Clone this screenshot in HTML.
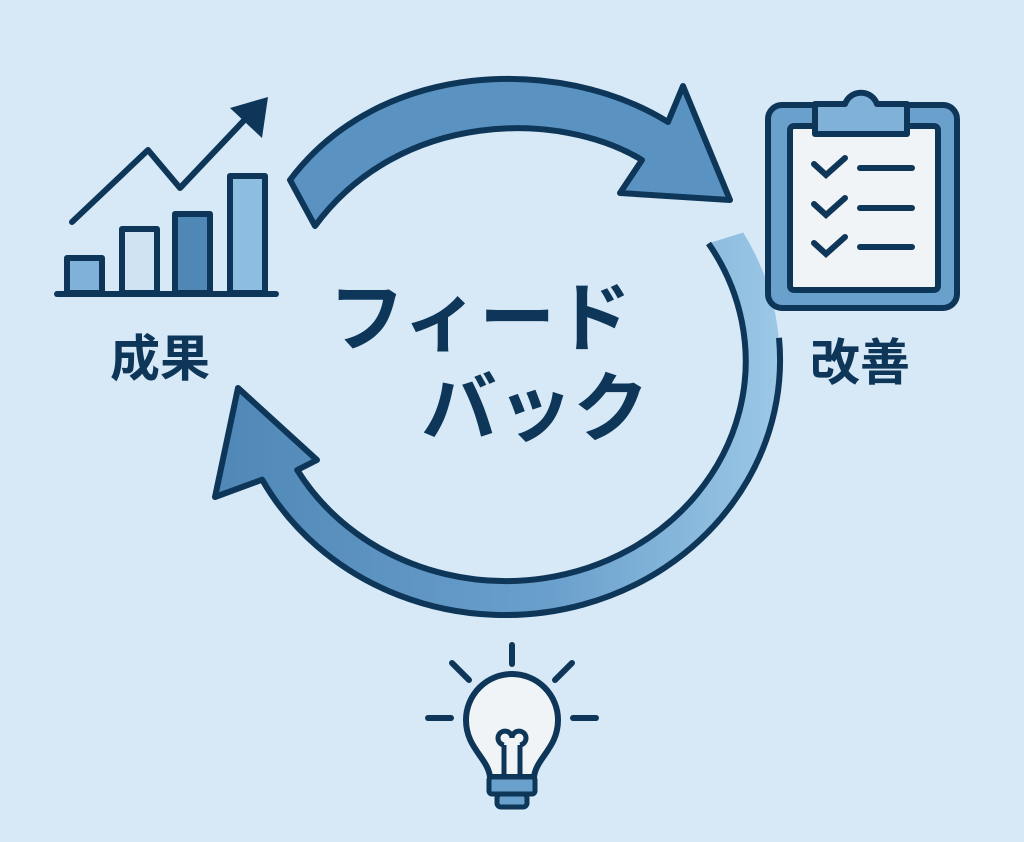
<!DOCTYPE html>
<html><head><meta charset="utf-8"><style>
html,body{margin:0;padding:0;background:#d7e9f6;}
svg{display:block}
text{font-family:"Liberation Sans","Noto Sans CJK JP",sans-serif;font-weight:bold;fill:#0e3659}
</style></head><body>
<svg width="1024" height="842" viewBox="0 0 1024 842" xmlns="http://www.w3.org/2000/svg">
<defs>
<linearGradient id="g1" x1="0" y1="0" x2="1" y2="0">
<stop offset="0" stop-color="#4f87b6"/><stop offset="0.6" stop-color="#6aa0cc"/><stop offset="1" stop-color="#9cc8e6"/>
</linearGradient>
</defs>
<rect width="1024" height="842" fill="#d7e9f6"/>
<!-- top arrow -->
<path d="M290 180 C380 60 560 55 668 122 L683 86 L730 200 L620 193 L642 160 C560 110 400 110 315 226 Z" fill="#5a93c2" stroke="#0e3659" stroke-width="6" stroke-linejoin="round"/>
<!-- bottom arrow -->
<path d="M743.2 232.5 A275 255 0 1 1 262.2 479.7 L215 497 L238 388 L317 460 L297.2 470 A240 220 0 1 0 708.5 243.4 Z" fill="url(#g1)" stroke="none"/>
<path d="M779 337.8 A275 255 0 0 1 262.2 479.7 L215 497 L238 388 L317 460 L297.2 470 A240 220 0 1 0 708.5 243.4" fill="none" stroke="#0e3659" stroke-width="6" stroke-linejoin="round"/>
<!-- bar chart -->
<g stroke="#0e3659" stroke-width="6" stroke-linejoin="round">
<rect x="67" y="258" width="35" height="35" fill="#7fb1d9"/>
<rect x="122" y="229" width="35" height="64" fill="#cfe3f2"/>
<rect x="175" y="214" width="35" height="79" fill="#4f87b6"/>
<rect x="230" y="176" width="35" height="117" fill="#8dbde0"/>
<line x1="57" y1="294" x2="276" y2="294" stroke-linecap="round"/>
<polyline points="72,222 148,150 180,188 252,112" fill="none" stroke-linecap="round"/>
</g>
<polygon points="268,97 230,108 262,138" fill="#0e3659"/>
<!-- clipboard -->
<rect x="768" y="105" width="189" height="203" rx="14" fill="#6aa0cc" stroke="#0e3659" stroke-width="6"/>
<rect x="790" y="126" width="148" height="164" rx="4" fill="#f1f4f7" stroke="#0e3659" stroke-width="6"/>
<path d="M815 104 L845 104 A17 17 0 0 1 877 104 L907 104 L907 134 L815 134 Z" fill="#7fb1d9" stroke="#0e3659" stroke-width="6" stroke-linejoin="round"/>
<g stroke="#0e3659" stroke-width="6" stroke-linecap="round" fill="none">
<polyline points="814,164 826,175 845,158"/><line x1="860" y1="168" x2="912" y2="168"/>
<polyline points="814,204 826,215 845,198"/><line x1="860" y1="208" x2="912" y2="208"/>
<polyline points="814,243 826,254 845,237"/><line x1="860" y1="247" x2="912" y2="247"/>
</g>
<!-- labels -->
<text x="160" y="376" font-size="50" text-anchor="middle">成果</text>
<text x="860" y="380" font-size="50" text-anchor="middle">改善</text>
<text x="480" y="345" font-size="76" text-anchor="middle">フィード</text>
<text x="535" y="435" font-size="76" text-anchor="middle">バック</text>
<!-- lightbulb -->
<g stroke="#0e3659" stroke-width="6" stroke-linecap="round" fill="none">
<line x1="512" y1="645" x2="512" y2="664"/>
<line x1="452" y1="663" x2="469" y2="680"/>
<line x1="572" y1="663" x2="555" y2="680"/>
<line x1="428" y1="718" x2="451" y2="718"/>
<line x1="573" y1="718" x2="596" y2="718"/>
</g>
<path d="M490 777 C488 758 466 748 466 720 A46 46 0 0 1 558 720 C558 748 536 758 534 777 Z" fill="#f1f4f7" stroke="#0e3659" stroke-width="6" stroke-linejoin="round"/>
<path d="M504 777 L504 745 M520 777 L520 745 M504 745 A7 7 0 1 1 512 738 A7 7 0 1 1 520 745" fill="none" stroke="#0e3659" stroke-width="5"/>
<rect x="489" y="777" width="46" height="17" rx="3" fill="#6aa0cc" stroke="#0e3659" stroke-width="5"/>
<rect x="497" y="794" width="30" height="13" rx="4" fill="#6aa0cc" stroke="#0e3659" stroke-width="5"/>
</svg>
</body></html>
